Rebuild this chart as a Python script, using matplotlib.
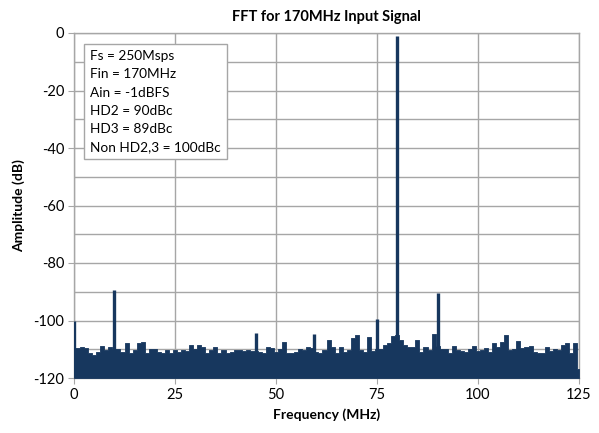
import numpy as np
import matplotlib
matplotlib.use('Agg')
import matplotlib.pyplot as plt

plt.rcParams['font.family'] = ['Lato', 'DejaVu Sans']
plt.rcParams['axes.unicode_minus'] = False

# noise floor, one value per MHz from 0 to 125 (dB)
freq_mhz = list(range(0, 126))
noise_db = [
    -109.5, -109.7, -109.1, -109.4, -111.4, -112.0, -110.8, -108.9, -110.3, -109.1,
    -110.0, -110.0, -110.8, -107.9, -111.2, -110.3, -107.9, -107.4, -111.4, -110.0,
    -110.0, -110.8, -111.2, -110.3, -111.4, -110.3, -110.8, -110.3, -110.5, -108.5,
    -110.0, -108.5, -109.1, -111.2, -110.3, -109.3, -111.2, -110.3, -111.4, -110.8,
    -110.3, -110.3, -110.5, -110.3, -110.5, -110.5, -110.8, -111.2, -109.3, -109.7,
    -110.8, -110.0, -107.6, -111.2, -111.2, -110.8, -110.0, -110.3, -109.1, -109.7,
    -110.8, -111.4, -110.3, -106.8, -109.1, -111.2, -109.1, -110.8, -110.3, -106.0,
    -105.0, -110.3, -110.8, -105.6, -110.5, -110.0, -110.0, -108.5, -107.9, -105.4,
    -105.0, -106.8, -108.5, -109.1, -109.3, -106.8, -110.8, -109.1, -110.3, -104.6,
    -109.0, -110.0, -110.0, -111.2, -108.9, -110.3, -110.5, -110.8, -110.0, -108.9,
    -110.5, -110.3, -109.7, -110.8, -107.9, -109.3, -107.4, -105.0, -110.3, -110.0,
    -107.2, -109.7, -109.1, -108.9, -110.8, -111.2, -111.4, -109.3, -110.5, -110.0,
    -110.3, -108.5, -107.9, -111.4, -107.9, -117.0,
]

# narrow spurs and the fundamental
spur_mhz = [0, 10, 45, 59.5, 75, 80, 90]
spur_db = [-100, -89.5, -104.3, -104.6, -99.5, -1, -90.5]

info_lines = ['Fs = 250Msps', 'Fin = 170MHz', 'Ain = -1dBFS', 'HD2 = 90dBc',
              'HD3 = 89dBc', 'Non HD2,3 = 100dBc']

navy = '#17375E'
grid_c = '#A6A6A6'

fig = plt.figure(figsize=(5.99, 4.33), dpi=100)
ax = fig.add_axes([74 / 599, 1 - 378 / 433, 505 / 599, 345 / 433])

ax.fill_between(freq_mhz, -120, noise_db, step='mid', color=navy, edgecolor=navy,
                linewidth=0.6, zorder=3)
ax.vlines(spur_mhz, -120, spur_db, color=navy, linewidth=2.4, zorder=3)

ax.set_xlim(0, 125)
ax.set_ylim(-120, 0)
ax.set_xticks(np.arange(0, 126, 25))
ax.set_yticks(np.arange(-120, 1, 20))
ax.set_yticks(np.arange(-110, 0, 20), minor=True)
ax.grid(True, which='both', color=grid_c, linewidth=1.0, zorder=0)
ax.tick_params(which='major', length=4, color=grid_c, labelsize=10.5, pad=3)
ax.tick_params(which='minor', length=0)
for s in ax.spines.values():
    s.set_color(grid_c)
    s.set_linewidth(1.0)

ax.set_title('FFT for 170MHz Input Signal', fontsize=10.5, fontweight='bold', pad=9)
ax.set_xlabel('Frequency (MHz)', fontsize=10, fontweight='bold', labelpad=5)
ax.set_ylabel('Amplitude (dB)', fontsize=10, fontweight='bold', labelpad=6)

ax.text(0.032, 0.95, '\n'.join(info_lines), transform=ax.transAxes, fontsize=9.8,
        va='top', ha='left', linespacing=1.62, zorder=5,
        bbox=dict(boxstyle='square,pad=0.45', facecolor='white', edgecolor=grid_c, linewidth=1.0))

fig.savefig('out.png', dpi=100)
